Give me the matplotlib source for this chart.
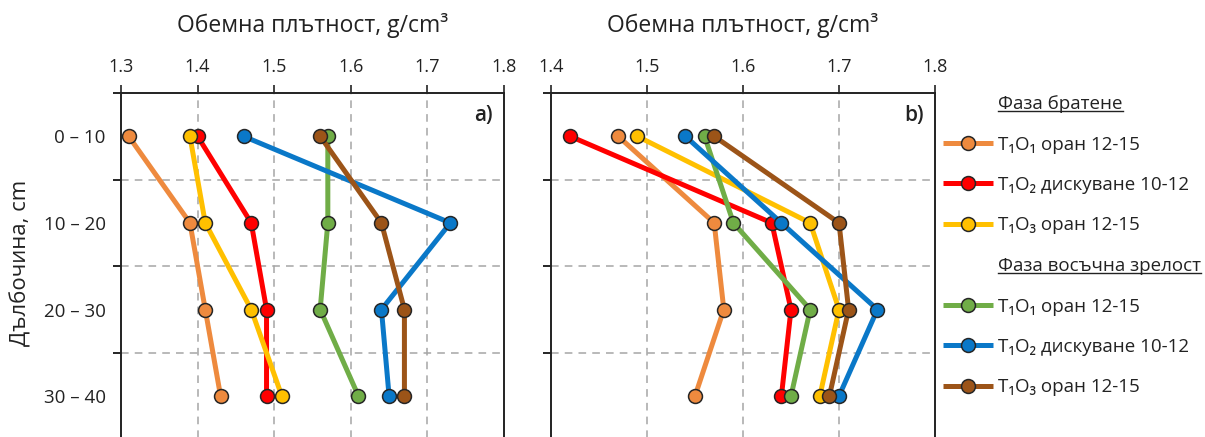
import matplotlib
matplotlib.use("Agg")
import matplotlib.pyplot as plt
from matplotlib.lines import Line2D

plt.rcParams['font.family'] = ['Open Sans', 'DejaVu Sans']

# ---------------- data ----------------
depths = ['0 – 10', '10 – 20', '20 – 30', '30 – 40']
series_labels = ['T₁O₁ оран 12-15', 'T₁O₂ дискуване 10-12', 'T₁O₃ оран 12-15',
                 'T₁O₁ оран 12-15', 'T₁O₂ дискуване 10-12', 'T₁O₃ оран 12-15']
group_titles = ['Фаза братене', 'Фаза восъчна зрелост']
colors = ['#EE8A3E', '#FF0000', '#FFC000', '#70AD47', '#0A78C8', '#9C5418']

a_orange = [1.31, 1.39, 1.41, 1.43]
a_red = [1.40, 1.47, 1.49, 1.49]
a_yellow = [1.39, 1.41, 1.47, 1.51]
a_green = [1.57, 1.57, 1.56, 1.61]
a_blue = [1.46, 1.73, 1.64, 1.65]
a_brown = [1.56, 1.64, 1.67, 1.67]

b_orange = [1.47, 1.57, 1.58, 1.55]
b_red = [1.42, 1.63, 1.65, 1.64]
b_yellow = [1.49, 1.67, 1.70, 1.68]
b_green = [1.56, 1.59, 1.67, 1.65]
b_blue = [1.54, 1.64, 1.74, 1.70]
b_brown = [1.57, 1.70, 1.71, 1.69]

a_ticks = [1.3, 1.4, 1.5, 1.6, 1.7, 1.8]
b_ticks = [1.4, 1.5, 1.6, 1.7, 1.8]
xlabel = 'Обемна плътност, g/cm³'
ylabel = 'Дълбочина, cm'

panels = [
    ('a)', [a_orange, a_red, a_yellow, a_green, a_blue, a_brown], a_ticks),
    ('b)', [b_orange, b_red, b_yellow, b_green, b_blue, b_brown], b_ticks),
]

# ---------------- figure ----------------
W, H = 1205, 437
fig = plt.figure(figsize=(W / 100, H / 100), dpi=100)

top_px = 93
bot_px = 93 + 4 * 86.6
boxes = [(121, 504), (551, 935)]

ypos = [i + 0.5 for i in range(len(depths))]
handles = []
for (tag, data, ticks), (x0, x1) in zip(panels, boxes):
    ax = fig.add_axes([x0 / W, 1 - bot_px / H, (x1 - x0) / W, (bot_px - top_px) / H])
    for vals, c in zip(data, colors):
        h, = ax.plot(vals, ypos, '-o', color=c, lw=3.6, ms=10,
                     mfc=c, mec='#262626', mew=1.1, solid_capstyle='butt', zorder=3)
        if tag == 'a)':
            handles.append(h)
    ax.set_xlim(ticks[0], ticks[-1])
    ax.set_ylim(len(depths), 0)

    ax.xaxis.tick_top()
    ax.set_xticks(ticks)
    ax.set_xticklabels([f'{t:.1f}' for t in ticks])
    ax.tick_params(axis='x', which='major', direction='out', length=6, width=1.2,
                   pad=6, labelsize=13, colors='#222222')
    ax.xaxis.set_label_position('top')
    ax.set_xlabel(xlabel, fontsize=16.5, color='#222222')
    ax.xaxis.set_label_coords(0.5, (bot_px - 25) / (bot_px - top_px))
    ax.xaxis.label.set_va('center')

    ax.set_yticks(ypos)
    ax.set_yticks(range(len(depths) + 1), minor=True)
    ax.tick_params(axis='y', which='major', length=0, pad=11)
    ax.tick_params(axis='y', which='minor', direction='out', length=6, width=1.2)
    if tag == 'a)':
        ax.set_yticklabels(depths, fontsize=13.5, color='#222222')
        ax.set_ylabel(ylabel, fontsize=16, color='#222222')
        ax.yaxis.set_label_coords((21 - x0) / (x1 - x0), (bot_px - 263) / (bot_px - top_px))
        ax.yaxis.label.set_va('center')
    else:
        ax.set_yticklabels([])

    for t in ticks[1:-1]:
        ax.axvline(t, color='#A6A6A6', lw=1.1, ls=(0, (5, 4)), zorder=1)
    for b in range(1, len(depths)):
        ax.axhline(b, color='#A6A6A6', lw=1.1, ls=(0, (5, 4)), zorder=1)

    for s in ax.spines.values():
        s.set_linewidth(1.4)
        s.set_color('#222222')

    ax.text(0.97, 0.935, tag, transform=ax.transAxes, ha='right', va='center',
            fontsize=15, fontweight='semibold', color='#222222')

blank = Line2D([], [], linestyle='none', marker=None)
leg_handles = [blank] + handles[:3] + [blank] + handles[3:]
leg_labels = [group_titles[0]] + series_labels[:3] + [group_titles[1]] + series_labels[3:]
leg = fig.legend(leg_handles, leg_labels, loc='upper left',
                 bbox_to_anchor=(943 / W, 1 - 95 / H), frameon=False,
                 fontsize=13.5, handlelength=2.67, handletextpad=0.27,
                 labelspacing=1.2, borderpad=0.0, borderaxespad=0.0)
for t in leg.get_texts():
    t.set_color('#222222')

fig.canvas.draw()
renderer = fig.canvas.get_renderer()
inv = fig.transFigure.inverted()
for idx in (0, 4):
    txt = leg.get_texts()[idx]
    bb = txt.get_window_extent(renderer)
    (fx0, fy0) = inv.transform((bb.x0, bb.y0 + 2))
    (fx1, _) = inv.transform((bb.x1, bb.y0 + 2))
    fig.add_artist(Line2D([fx0, fx1], [fy0, fy0], transform=fig.transFigure,
                          color='#222222', lw=1.0))

fig.savefig('out.png', dpi=100)
